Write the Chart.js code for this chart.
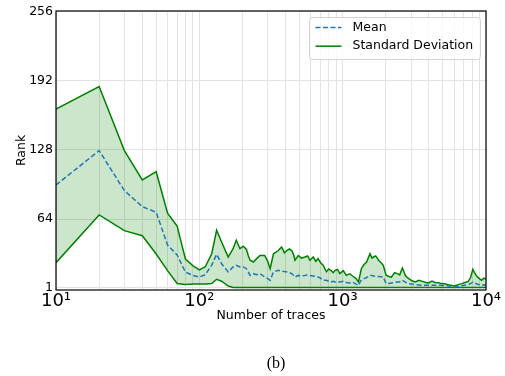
<!DOCTYPE html>
<html>
<head>
<meta charset="utf-8">
<script src="https://cdn.jsdelivr.net/npm/chart.js@4"></script>
<style>
  body { margin: 0; background: #fff; }
  #wrap { width: 505px; height: 376px; }
</style>
</head>
<body>
<div id="wrap"><canvas id="rankChart" width="505" height="376"></canvas></div>
<script>
/* =========================
   Data
========================= */

const traces = [10, 20, 30, 40, 50, 60, 70, 80, 90, 100,
  110, 122, 132, 143, 159, 172, 181, 192, 203, 213,
  220, 226, 238, 251, 265, 286, 300, 312, 329, 356,
  375, 392, 408, 425, 441, 455, 465, 490, 515, 545,
  570, 591, 623, 650, 673, 700, 730, 770, 800, 835,
  860, 886, 920, 955, 1010, 1060, 1120, 1185, 1240, 1290,
  1350, 1410, 1470, 1550, 1600, 1640, 1700, 1780, 1850, 1920,
  2010, 2100, 2190, 2300, 2400, 2500, 2610, 2750, 2890, 3050,
  3210, 3400, 3600, 3800, 3980, 4200, 4400, 4650, 4900, 5150,
  5430, 5700, 6020, 6400, 6780, 7150, 7520, 7800, 8100, 8350,
  8600, 8900, 9320, 9650, 10000];

const meanRank = [95.6, 127.4, 90.4, 75.6, 70.4, 40.1, 30.9, 15, 12, 10.5,
  12.7, 21.4, 31.5, 22.8, 15.2, 19.8, 21.4, 19.8, 19.8, 18.2,
  15, 12, 13.6, 12.7, 13.6, 10.5, 9, 7.5, 15.2, 16.7,
  16, 15.5, 15.2, 14.5, 13.6, 12, 10.5, 12, 11.5, 12,
  12.5, 12, 11.5, 11, 10.5, 9.5, 7.5, 7.5, 6.5, 6,
  6.5, 6, 6, 5.9, 6.5, 5.5, 5, 5.5, 4, 2.8,
  8, 9, 10, 12, 12, 11.5, 11, 11, 10.8, 10.5,
  4.3, 4.5, 5, 5.5, 5.9, 6, 7.5, 5.5, 4.3, 4,
  3.5, 3.2, 2.8, 3, 2.8, 3, 2.8, 2.9, 2.8, 2.6,
  2.5, 2, 1.3, 2, 2.5, 3, 3.5, 4.5, 5.9, 5,
  4, 3.5, 2.8, 3.3, 2.8];

const upperRank = [165.7, 186.6, 127.4, 100.3, 107.9, 69.5, 57.7, 27, 21, 17,
  20, 32, 53.7, 42.9, 29, 36.7, 44.5, 36.7, 39, 36,
  30, 26, 24.4, 27.5, 30.4, 30.4, 25, 18.2, 32, 35,
  38.3, 33, 35, 36.5, 35, 31, 26, 30.4, 28, 29,
  30, 26, 29, 25, 27.5, 24, 21.4, 15.4, 18, 16.2,
  14.5, 16.7, 17.5, 13.6, 16.4, 12, 13.5, 11, 9, 5.9,
  18.2, 22, 24.4, 32, 28, 29, 30, 26, 24, 21.4,
  12.1, 11, 10.3, 14.5, 13.6, 12.5, 18.9, 11.5, 9, 7,
  5.9, 7.5, 6.5, 5.5, 5, 6.8, 5.5, 5.2, 4.4, 4.2,
  3.4, 3, 2.2, 3.5, 4.4, 5.5, 6.5, 10, 17.6, 14,
  11.4, 9.5, 7.5, 9.5, 8.5];

const lowerRank = [23.8, 67.9, 53.4, 48.7, 31.8, 16.4, 4.5, 3.5, 4, 4,
  4, 4.5, 8.4, 6.6, 2.2, 0.8, 0.8, 0.8, 0.8, 0.8,
  0.8, 0.8, 0.8, 0.8, 0.8, 0.8, 0.8, 0.8, 0.8, 0.8,
  0.8, 0.8, 0.8, 0.8, 0.8, 0.8, 0.8, 0.8, 0.8, 0.8,
  0.8, 0.8, 0.8, 0.8, 0.8, 0.8, 0.8, 0.8, 0.8, 0.8,
  0.8, 0.8, 0.8, 0.8, 0.8, 0.8, 0.8, 0.8, 0.8, 0.8,
  0.8, 0.8, 0.8, 0.8, 0.8, 0.8, 0.8, 0.8, 0.8, 0.8,
  0.8, 0.8, 0.8, 0.8, 0.8, 0.8, 0.8, 0.8, 0.8, 0.8,
  0.8, 0.8, 0.8, 0.8, 0.8, 0.8, 0.8, 0.8, 0.8, 0.8,
  0.8, 0.8, 0.8, 0.8, 0.8, 0.8, 0.8, 0.8, 0.8, 0.8,
  0.8, 0.8, 0.8, 0.8, 0.8];

const yTicks = [1, 64, 128, 192, 256];
const xMajorTicks = [10, 100, 1000, 10000];
const xTickLabels = ["10\u00B9", "10\u00B2", "10\u00B3", "10\u2074"];
const xMinorTicks = [20, 30, 40, 50, 60, 70, 80, 90,
  200, 300, 400, 500, 600, 700, 800, 900,
  2000, 3000, 4000, 5000, 6000, 7000, 8000, 9000];

const legendLabels = ["Mean", "Standard Deviation"];

/* =========================
   Styles
========================= */

const BLUE = "#1f77b4";
const GREEN = "#008000";
const FONT = "DejaVu Sans";

function points(values) {
  return traces.map((t, i) => ({ x: t, y: values[i] }));
}

/* =========================
   Frame, legend, caption
========================= */

const decorations = {
  id: "decorations",
  afterDatasetsDraw(chart) {
    const { ctx, chartArea: a } = chart;
    ctx.save();
    ctx.strokeStyle = "#000";
    ctx.lineWidth = 1.2;
    ctx.strokeRect(a.left, a.top, a.right - a.left, a.bottom - a.top);
    ctx.restore();
  },
  afterDraw(chart) {
    const { ctx, chartArea: a } = chart;
    ctx.save();

    // legend box, upper right inside the plot
    const bx = a.right - 176.5, by = a.top + 6.5;
    ctx.beginPath();
    ctx.roundRect(bx, by, 171, 42, 3);
    ctx.fillStyle = "rgba(255,255,255,0.8)";
    ctx.fill();
    ctx.strokeStyle = "#d3d3d3";
    ctx.lineWidth = 1;
    ctx.stroke();

    const rows = [by + 10, by + 28.7];
    ctx.lineWidth = 1.5;
    ctx.setLineDash([5, 2.5]);
    ctx.strokeStyle = BLUE;
    ctx.beginPath();
    ctx.moveTo(bx + 6, rows[0]);
    ctx.lineTo(bx + 32, rows[0]);
    ctx.stroke();
    ctx.setLineDash([]);
    ctx.strokeStyle = GREEN;
    ctx.beginPath();
    ctx.moveTo(bx + 6, rows[1]);
    ctx.lineTo(bx + 32, rows[1]);
    ctx.stroke();

    ctx.fillStyle = "#000";
    ctx.font = `12.5px "${FONT}"`;
    ctx.textBaseline = "middle";
    ctx.textAlign = "left";
    ctx.fillText(legendLabels[0], bx + 43, rows[0]);
    ctx.fillText(legendLabels[1], bx + 43, rows[1]);

    // sub-figure caption
    ctx.font = `16px "Liberation Serif"`;
    ctx.textAlign = "center";
    ctx.fillText("(b)", 276, 364);
    ctx.restore();
  }
};

/* =========================
   Chart
========================= */

new Chart(document.getElementById("rankChart"), {
  type: "line",
  data: {
    datasets: [
      {
        label: "Mean",
        data: points(meanRank),
        borderColor: BLUE,
        borderWidth: 1.5,
        borderDash: [5, 2.5],
        pointRadius: 0,
        tension: 0,
        fill: false
      },
      {
        label: "Standard Deviation",
        data: points(upperRank),
        borderColor: GREEN,
        borderWidth: 1.5,
        backgroundColor: "rgba(0,128,0,0.2)",
        pointRadius: 0,
        tension: 0,
        fill: "+1"
      },
      {
        label: "lower",
        data: points(lowerRank),
        borderColor: GREEN,
        borderWidth: 1.5,
        pointRadius: 0,
        tension: 0,
        fill: false
      }
    ]
  },
  options: {
    responsive: false,
    animation: false,
    devicePixelRatio: 1,
    layout: { padding: { top: 11, right: 19, left: 0, bottom: 0 } },
    plugins: {
      legend: { display: false },
      tooltip: { enabled: false }
    },
    scales: {
      x: {
        type: "logarithmic",
        min: 10,
        max: 10000,
        border: { display: false },
        grid: { color: "#e3e3e3", lineWidth: 1, drawTicks: false },
        afterBuildTicks(scale) {
          scale.ticks = [...xMajorTicks, ...xMinorTicks]
            .sort((p, q) => p - q)
            .map(v => ({ value: v }));
        },
        afterFit(scale) { scale.height = 86; },
        ticks: {
          autoSkip: false,
          maxRotation: 0,
          padding: 1,
          color: "#000",
          font: { family: FONT, size: 18 },
          callback(value) {
            const i = xMajorTicks.indexOf(value);
            return i >= 0 ? xTickLabels[i] : "";
          }
        },
        title: {
          display: true,
          text: "Number of traces",
          color: "#000",
          font: { family: FONT, size: 12.5 },
          padding: { top: 0, bottom: 52.5 }
        }
      },
      y: {
        min: -1.5,
        max: 256.5,
        border: { display: false },
        grid: { color: "#e3e3e3", lineWidth: 1, drawTicks: false },
        afterBuildTicks(scale) {
          scale.ticks = yTicks.map(v => ({ value: v }));
        },
        afterFit(scale) { scale.width = 56; },
        ticks: {
          padding: 3,
          color: "#000",
          font: { family: FONT, size: 12.5 }
        },
        title: {
          display: true,
          text: "Rank",
          color: "#000",
          font: { family: FONT, size: 12.5 },
          padding: { top: 14.5, bottom: 0 }
        }
      }
    }
  },
  plugins: [decorations]
});
</script>
</body>
</html>
